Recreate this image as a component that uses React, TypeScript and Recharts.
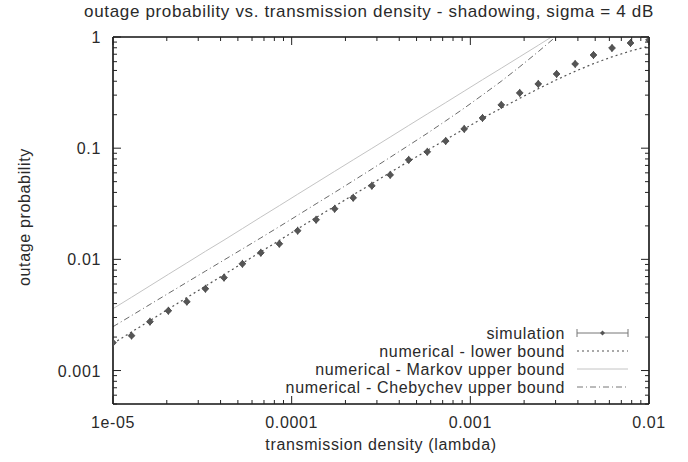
import React from 'react';
import { LineChart, Line, XAxis, YAxis, Legend } from 'recharts';

const lambdaValues = [1e-5, 1.27e-5, 1.61e-5, 2.04e-5, 2.59e-5, 3.29e-5, 4.18e-5, 5.3e-5, 6.72e-5, 8.53e-5, 1.08e-4, 1.37e-4, 1.74e-4, 2.21e-4, 2.81e-4, 3.56e-4, 4.52e-4, 5.74e-4, 7.28e-4, 9.24e-4, 1.17e-3, 1.49e-3, 1.89e-3, 2.4e-3, 3.04e-3, 3.86e-3, 4.89e-3, 6.21e-3, 7.88e-3, 1e-2];
const simulation = [0.00178, 0.00206, 0.00275, 0.00345, 0.00416, 0.00544, 0.00684, 0.00912, 0.01146, 0.0138, 0.0181, 0.0227, 0.0285, 0.0358, 0.0459, 0.0575, 0.0785, 0.0927, 0.116, 0.149, 0.187, 0.245, 0.314, 0.378, 0.465, 0.572, 0.689, 0.796, 0.883, 0.94];
const lowerBound = [0.00175, 0.00222, 0.00281, 0.00357, 0.00453, 0.00574, 0.00728, 0.00923, 0.0117, 0.0148, 0.0188, 0.0238, 0.03, 0.038, 0.0479, 0.0605, 0.0761, 0.0955, 0.119, 0.149, 0.186, 0.229, 0.281, 0.342, 0.413, 0.491, 0.576, 0.663, 0.748, 0.826];
const markovUpper = [0.0036, 0.00456, 0.00578, 0.00733, 0.00929, 0.0118, 0.0149, 0.0189, 0.024, 0.0304, 0.0385, 0.0488, 0.0619, 0.0785, 0.0995, 0.126, 0.16, 0.203, 0.257, 0.326, 0.413, 0.524, 0.664, 0.842, 1.07, 1.35, null, null, null, null];
const chebychevUpper = [0.00248, 0.00312, 0.00393, 0.00494, 0.00622, 0.00783, 0.00986, 0.0124, 0.0156, 0.0197, 0.0249, 0.0316, 0.04, 0.0509, 0.0649, 0.0828, 0.106, 0.136, 0.176, 0.229, 0.301, 0.4, 0.54, 0.738, 1.02, 1.45, null, null, null, null];

const xMajorTicks = [1e-5, 1e-4, 1e-3, 1e-2];
const xTickLabels = ['1e-05', '0.0001', '0.001', '0.01'];
const xMinorTicks = [2e-5, 3e-5, 4e-5, 5e-5, 6e-5, 7e-5, 8e-5, 9e-5, 2e-4, 3e-4, 4e-4, 5e-4, 6e-4, 7e-4, 8e-4, 9e-4, 2e-3, 3e-3, 4e-3, 5e-3, 6e-3, 7e-3, 8e-3, 9e-3];
const yMajorTicks = [0.001, 0.01, 0.1, 1];
const yTickLabels = ['0.001', '0.01', '0.1', '1'];
const yMinorTicks = [0.0005, 0.0006, 0.0007, 0.0008, 0.0009, 0.002, 0.003, 0.004, 0.005, 0.006, 0.007, 0.008, 0.009, 0.02, 0.03, 0.04, 0.05, 0.06, 0.07, 0.08, 0.09, 0.2, 0.3, 0.4, 0.5, 0.6, 0.7, 0.8, 0.9];

const seriesNames = ['simulation', 'numerical - lower bound', 'numerical - Markov upper bound', 'numerical - Chebychev upper bound'];

const data = lambdaValues.map((l, i) => ({
  lambda: l,
  sim: simulation[i],
  lower: lowerBound[i],
  markov: markovUpper[i],
  cheb: chebychevUpper[i],
}));

const FONT = '"Liberation Sans", Arial, Helvetica, sans-serif';
const TEXT = '#2a2a2a';
const LS = 0.65;
const MAJOR = 8;
const MINOR = 4;

const xAll = [...xMajorTicks, ...xMinorTicks].sort((a, b) => a - b);
const yAll = [...yMajorTicks, ...yMinorTicks].sort((a, b) => a - b);

const isMajor = (arr: number[], v: number) => arr.some((m) => Math.abs(m - v) / m < 1e-9);

const BottomTick = (props: any) => {
  const { x, y, payload } = props;
  const v = payload.value;
  const maj = isMajor(xMajorTicks, v);
  const idx = xMajorTicks.findIndex((m) => Math.abs(m - v) / m < 1e-9);
  return (
    <g>
      <line x1={x} x2={x} y1={y} y2={y - (maj ? MAJOR : MINOR)} stroke="#222" strokeWidth={1} />
      {maj && (
        <text x={x} y={y + 24} textAnchor="middle" fontSize={16} letterSpacing={LS} fontFamily={FONT} fill={TEXT}>
          {xTickLabels[idx]}
        </text>
      )}
    </g>
  );
};

const TopTick = (props: any) => {
  const { x, y, payload } = props;
  const maj = isMajor(xMajorTicks, payload.value);
  return <line x1={x} x2={x} y1={y} y2={y + (maj ? MAJOR : MINOR)} stroke="#222" strokeWidth={1} />;
};

const LeftTick = (props: any) => {
  const { x, y, payload } = props;
  const v = payload.value;
  const maj = isMajor(yMajorTicks, v);
  const idx = yMajorTicks.findIndex((m) => Math.abs(m - v) / m < 1e-9);
  return (
    <g>
      <line x1={x} x2={x + (maj ? MAJOR : MINOR)} y1={y} y2={y} stroke="#222" strokeWidth={1} />
      {maj && (
        <text x={x - 12} y={y + 6} textAnchor="end" fontSize={16} letterSpacing={LS} fontFamily={FONT} fill={TEXT}>
          {yTickLabels[idx]}
        </text>
      )}
    </g>
  );
};

const RightTick = (props: any) => {
  const { x, y, payload } = props;
  const maj = isMajor(yMajorTicks, payload.value);
  return <line x1={x} x2={x - (maj ? MAJOR : MINOR)} y1={y} y2={y} stroke="#222" strokeWidth={1} />;
};

const SimDot = (props: any) => {
  const { cx, cy, index } = props;
  if (cx == null || cy == null) return <g key={`d${index}`} />;
  const r = 3.4;
  return (
    <g key={`d${index}`}>
      <line x1={cx} x2={cx} y1={cy - 4} y2={cy + 4} stroke="#666" strokeWidth={1} />
      <path d={`M${cx},${cy - r} L${cx + r},${cy} L${cx},${cy + r} L${cx - r},${cy} Z`} fill="#555" stroke="#444" strokeWidth={0.8} />
    </g>
  );
};

const LegendContent = () => {
  const rowsY = [333, 351, 369, 387];
  const textRight = 565;
  const s0 = 577;
  const s1 = 628;
  return (
    <svg width={688} height={462} style={{ position: 'absolute', left: 0, top: 0, pointerEvents: 'none' }}>
      {seriesNames.map((n, i) => (
        <text key={n} x={textRight} y={rowsY[i] + 6} textAnchor="end" fontSize={16} letterSpacing={LS} fontFamily={FONT} fill={TEXT}>
          {n}
        </text>
      ))}
      <g>
        <line x1={s0} x2={s1} y1={rowsY[0]} y2={rowsY[0]} stroke="#777" strokeWidth={1} />
        <line x1={s0} x2={s0} y1={rowsY[0] - 4} y2={rowsY[0] + 4} stroke="#777" strokeWidth={1} />
        <line x1={s1} x2={s1} y1={rowsY[0] - 4} y2={rowsY[0] + 4} stroke="#777" strokeWidth={1} />
        <path d={`M${(s0 + s1) / 2},${rowsY[0] - 2.5} l2.5,2.5 l-2.5,2.5 l-2.5,-2.5 Z`} fill="#555" />
      </g>
      <line x1={s0} x2={s1} y1={rowsY[1]} y2={rowsY[1]} stroke="#555" strokeWidth={1.2} strokeDasharray="2 3" />
      <line x1={s0} x2={s1} y1={rowsY[2]} y2={rowsY[2]} stroke="#c4c4c4" strokeWidth={1} />
      <line x1={s0} x2={s1} y1={rowsY[3]} y2={rowsY[3]} stroke="#777" strokeWidth={1} strokeDasharray="6 3 1 3" />
    </svg>
  );
};

export default function App() {
  return (
    <div style={{ position: 'absolute', left: 0, top: 0, width: 688, height: 462, background: '#fff' }}>
      <div style={{ position: 'absolute', left: 0, top: 2, width: 738, textAlign: 'center', fontFamily: FONT, fontSize: 17, letterSpacing: LS, color: TEXT, whiteSpace: 'nowrap' }}>
        outage probability vs. transmission density - shadowing, sigma = 4 dB
      </div>
      <div style={{ position: 'absolute', left: 113, top: 436, width: 536, textAlign: 'center', fontFamily: FONT, fontSize: 16, letterSpacing: LS, color: TEXT, whiteSpace: 'nowrap' }}>
        transmission density (lambda)
      </div>
      <div style={{ position: 'absolute', left: 25, top: 217, width: 0, height: 0 }}>
        <div style={{ position: 'absolute', left: -150, top: -10, width: 300, textAlign: 'center', transform: 'rotate(-90deg)', fontFamily: FONT, fontSize: 16, letterSpacing: LS, color: TEXT, whiteSpace: 'nowrap', lineHeight: '20px' }}>
          outage probability
        </div>
      </div>
      <LineChart width={688} height={462} data={data} margin={{ top: 36, right: 38, bottom: 0, left: 0 }} style={{ position: 'absolute', left: 0, top: 0 }}>
        <XAxis xAxisId="bottom" dataKey="lambda" type="number" scale="log" domain={[1e-5, 0.01]} allowDataOverflow ticks={xAll} interval={0} height={58} tickSize={0} tickMargin={0} tick={<BottomTick />} tickLine={false} axisLine={{ stroke: '#111', strokeWidth: 1.6 }} />
        <XAxis xAxisId="top" orientation="top" dataKey="lambda" type="number" scale="log" domain={[1e-5, 0.01]} allowDataOverflow ticks={xAll} interval={0} height={1} tickSize={0} tickMargin={0} tick={<TopTick />} tickLine={false} axisLine={{ stroke: '#111', strokeWidth: 1.6 }} />
        <YAxis yAxisId="left" type="number" scale="log" domain={[0.0005, 1]} allowDataOverflow ticks={yAll} interval={0} width={113} tickSize={0} tickMargin={0} tick={<LeftTick />} tickLine={false} axisLine={{ stroke: '#111', strokeWidth: 1.6 }} />
        <YAxis yAxisId="right" orientation="right" type="number" scale="log" domain={[0.0005, 1]} allowDataOverflow ticks={yAll} interval={0} width={1} tickSize={0} tickMargin={0} tick={<RightTick />} tickLine={false} axisLine={{ stroke: '#111', strokeWidth: 1.6 }} />
        <Line xAxisId="bottom" yAxisId="left" dataKey="markov" type="linear" stroke="#c4c4c4" strokeWidth={1} dot={false} isAnimationActive={false} connectNulls={false} />
        <Line xAxisId="bottom" yAxisId="left" dataKey="cheb" type="linear" stroke="#6a6a6a" strokeWidth={1} strokeDasharray="6 3 1 3" dot={false} isAnimationActive={false} connectNulls={false} />
        <Line xAxisId="bottom" yAxisId="left" dataKey="lower" type="linear" stroke="#555" strokeWidth={1.2} strokeDasharray="2 3" dot={false} isAnimationActive={false} />
        <Line xAxisId="bottom" yAxisId="left" dataKey="sim" type="linear" stroke="none" dot={<SimDot />} isAnimationActive={false} />
        <Legend layout="vertical" align="center" verticalAlign="middle" content={<LegendContent />} wrapperStyle={{ position: 'absolute', left: 0, top: 0, width: 688, height: 462, pointerEvents: 'none' }} />
      </LineChart>
    </div>
  );
}
